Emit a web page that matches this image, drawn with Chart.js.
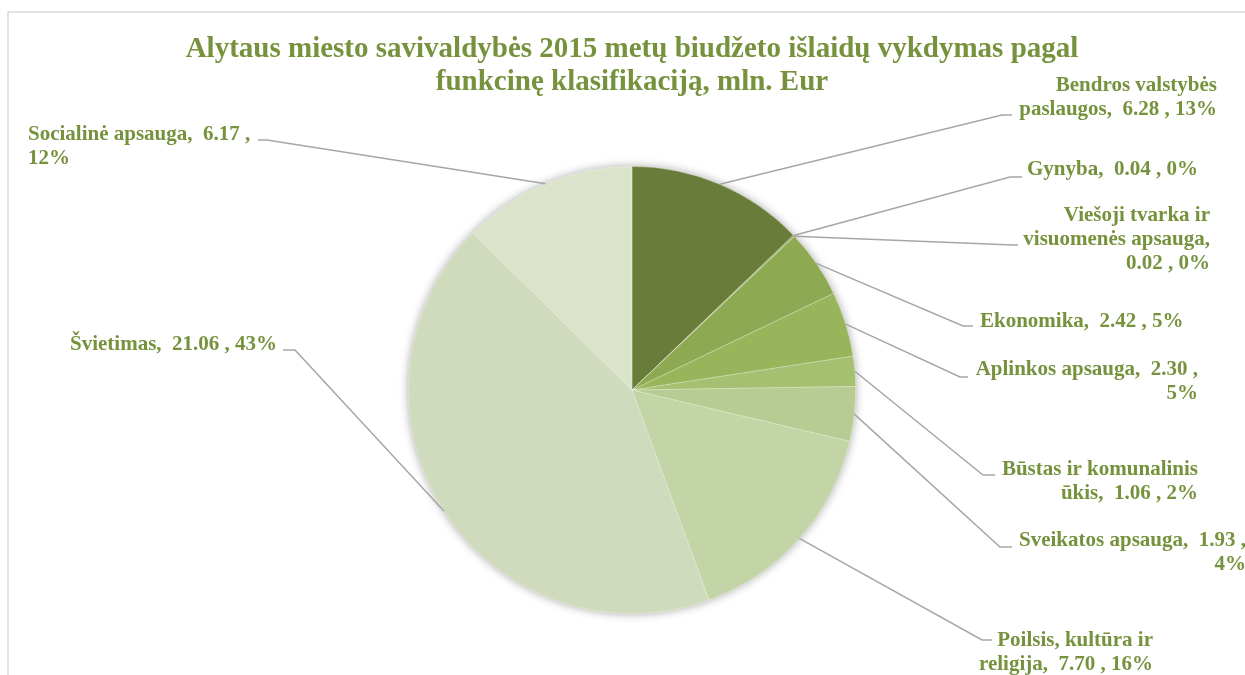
<!DOCTYPE html>
<html>
<head>
<meta charset="utf-8">
<script src="https://cdn.jsdelivr.net/npm/chart.js@4"></script>
<style>
  body { margin: 0; background: #ffffff; }
  canvas { display: block; }
</style>
</head>
<body>
<canvas id="myChart" width="1245" height="675"></canvas>
<script>
// chart data
var categories = ['Bendros valstybės paslaugos', 'Gynyba', 'Viešoji tvarka ir visuomenės apsauga',
  'Ekonomika', 'Aplinkos apsauga', 'Būstas ir komunalinis ūkis', 'Sveikatos apsauga',
  'Poilsis, kultūra ir religija', 'Švietimas', 'Socialinė apsauga'];
var values = [6.28, 0.04, 0.02, 2.42, 2.30, 1.06, 1.93, 7.70, 21.06, 6.17];
var percents = [13, 0, 0, 5, 5, 2, 4, 16, 43, 12];
var sliceColors = ['#697c39', '#7a9142', '#84a049', '#8da952', '#99b55b',
  '#a5c071', '#b6cc93', '#c3d4a6', '#cfdbbc', '#dbe4cb'];

var titleLines = ['Alytaus miesto savivaldybės 2015 metų biudžeto išlaidų vykdymas pagal',
  'funkcinę klasifikaciją, mln. Eur'];

var green = '#76923c';
var serif = "'Liberation Serif', 'Times New Roman', serif";
var labelFont = 'bold 21px ' + serif;

// where each data label sits (Excel style leader lines)
// tx = text edge, ty = centre of first line, align, wrap width, elbow ex/ey, line end lx
var labelLayout = [
  { tx: 1217, ty: 86,  align: 'right', wrap: 215, ex: 1002, ey: 115, lx: 1012 },
  { tx: 1027, ty: 170, align: 'left',  wrap: 260, ex: 1010, ey: 177, lx: 1022 },
  { tx: 1210, ty: 216, align: 'right', wrap: 205, ex: 1013, ey: 245, lx: 1018 },
  { tx: 980,  ty: 322, align: 'left',  wrap: 260, ex: 963,  ey: 326, lx: 973 },
  { tx: 1198, ty: 370, align: 'right', wrap: 240, ex: 960,  ey: 377, lx: 968 },
  { tx: 1198, ty: 470, align: 'right', wrap: 210, ex: 983,  ey: 475, lx: 995 },
  { tx: 1246, ty: 541, align: 'right', wrap: 250, ex: 1000, ey: 547, lx: 1012 },
  { tx: 1153, ty: 641, align: 'right', wrap: 190, ex: 982,  ey: 640, lx: 992 },
  { tx: 70,   ty: 345, align: 'left',  wrap: 300, ex: 295,  ey: 350, lx: 283 },
  { tx: 28,   ty: 135, align: 'left',  wrap: 235, ex: 267,  ey: 140, lx: 258 }
];

function wrapText(ctx, text, maxW) {
  var words = text.split(' ');
  var lines = [];
  var cur = '';
  words.forEach(function (w) {
    var test = cur === '' ? w : cur + ' ' + w;
    if (ctx.measureText(test).width > maxW && cur.trim() !== '') {
      lines.push(cur);
      cur = w;
    } else {
      cur = test;
    }
  });
  if (cur !== '') lines.push(cur);
  return lines.map(function (l) { return l.trim(); });
}

var frameAndShadow = {
  id: 'frameAndShadow',
  beforeDraw: function (chart) {
    var c = chart.ctx;
    c.save();
    c.strokeStyle = '#d9d9d9';
    c.lineWidth = 1.5;
    c.strokeRect(8, 12, 1300, 700);
    c.restore();
  },
  beforeDatasetsDraw: function (chart) {
    var arc = chart.getDatasetMeta(0).data[0];
    if (!arc) return;
    var p = arc.getProps(['x', 'y', 'outerRadius'], true);
    var c = chart.ctx;
    c.save();
    c.shadowColor = 'rgba(0,0,0,0.35)';
    c.shadowBlur = 10;
    c.fillStyle = '#cfdbbc';
    c.beginPath();
    c.arc(p.x, p.y, p.outerRadius, 0, Math.PI * 2);
    c.fill();
    c.restore();
  }
};

var leaderLabels = {
  id: 'leaderLabels',
  afterDatasetsDraw: function (chart) {
    var c = chart.ctx;
    var meta = chart.getDatasetMeta(0);
    c.save();
    c.font = labelFont;
    meta.data.forEach(function (arc, i) {
      var p = arc.getProps(['x', 'y', 'startAngle', 'endAngle', 'outerRadius'], true);
      var mid = (p.startAngle + p.endAngle) / 2;
      var ax = p.x + Math.cos(mid) * p.outerRadius;
      var ay = p.y + Math.sin(mid) * p.outerRadius;
      var L = labelLayout[i];

      c.strokeStyle = '#a6a6a6';
      c.lineWidth = 1.5;
      c.beginPath();
      c.moveTo(ax, ay);
      c.lineTo(L.ex, L.ey);
      c.lineTo(L.lx, L.ey);
      c.stroke();

      var text = categories[i] + ',  ' + values[i].toFixed(2) + ' , ' + percents[i] + '%';
      var lines = wrapText(c, text, L.wrap);
      c.fillStyle = green;
      c.textAlign = L.align;
      c.textBaseline = 'middle';
      lines.forEach(function (ln, k) {
        c.fillText(ln, L.tx, L.ty + k * 24);
      });
    });
    c.restore();
  }
};

var ctx = document.getElementById('myChart').getContext('2d');
var myChart = new Chart(ctx, {
  type: 'pie',
  data: {
    labels: categories,
    datasets: [{
      data: values,
      backgroundColor: sliceColors,
      borderColor: 'rgba(255,255,255,0.45)',
      borderWidth: 0.6
    }]
  },
  options: {
    responsive: false,
    animation: false,
    layout: {
      padding: { top: 20, bottom: 61, left: 19, right: 0 }
    },
    plugins: {
      legend: { display: false },
      tooltip: { enabled: false },
      title: {
        display: true,
        text: titleLines,
        color: green,
        font: { family: serif, size: 29, weight: 'bold', lineHeight: 1.14 },
        padding: { top: 13, bottom: 67 }
      }
    }
  },
  plugins: [frameAndShadow, leaderLabels]
});
</script>
</body>
</html>
